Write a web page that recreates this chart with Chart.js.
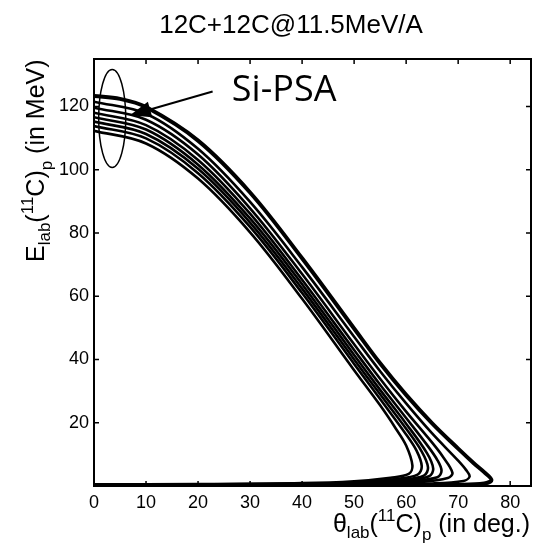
<!DOCTYPE html>
<html lang="en">
<head>
    <meta charset="UTF-8">
    <title>12C+12C@11.5MeV/A</title>
    <script src="https://cdn.jsdelivr.net/npm/chart.js"></script>
    <style>
        body { margin: 0; background: #fff; }
        #wrap { width: 537px; height: 556px; }
    </style>
</head>
<body>
    <div id="wrap"><canvas id="kinChart" width="537" height="556"></canvas></div>

    <script>
        // 11C kinematic loci: [theta_lab (deg), E_lab (MeV)]
        // upper branch from theta = 0 out to the turning angle, then back along the bottom
        const curve1 = [[0,112.3],[10,108.3],[20,97.2],[30,80.2],[40,59.2],[50,36.6],[55,25.5],[58,18.2],[60,12.8],[61.2,6.5],[60.5,3.8],[57,2.6],[50,1.5],[40,0.9],[20,0.6],[0,0.5]];
        const curve2 = [[0,113.8],[10,109.9],[20,98.9],[30,81.9],[40,61.0],[50,38.6],[55,27.5],[60,16.3],[62,11.2],[63,6.3],[62.2,3.6],[58,2.2],[50,1.1],[30,0.6],[0,0.4]];
        const curve3 = [[0,115.2],[10,111.3],[20,100.3],[30,83.3],[40,62.4],[50,40.0],[55,29.0],[60,18.1],[63,10.9],[64.2,5.9],[63.4,3.3],[59,2.0],[50,1.0],[30,0.5],[0,0.3]];
        const curve4 = [[0,116.6],[10,112.7],[20,101.6],[30,84.6],[40,63.8],[50,41.4],[55,30.4],[60,19.7],[64,10.4],[65.2,5.5],[64.4,3.1],[60,1.8],[50,0.9],[30,0.4],[0,0.3]];
        const curve5 = [[0,118.0],[10,114.1],[20,103.1],[30,86.1],[40,65.2],[50,43.0],[55,32.0],[60,21.5],[64,13.0],[66,8.2],[66.8,4.8],[66,2.8],[61,1.6],[50,0.8],[30,0.4],[0,0.2]];
        const curve6 = [[0,119.6],[10,115.8],[20,104.8],[30,87.8],[40,67.0],[50,44.8],[55,33.9],[60,23.5],[65,13.7],[67,9.4],[68.9,4.2],[68,2.5],[63,1.3],[50,0.6],[30,0.3],[0,0.2]];
        const curve7 = [[0,121.5],[10,117.7],[20,106.6],[30,89.8],[40,69.2],[50,47.2],[55,36.3],[60,26.1],[65,16.6],[70,8.0],[71.5,5.1],[72.2,3.0],[71,1.6],[65,0.8],[50,0.4],[0,0.1]];
        const curve8 = [[0,123.3],[5,122.4],[10,119.8],[20,109.2],[30,92.8],[40,72.0],[50,49.8],[55,38.8],[60,28.8],[65,19.8],[70,11.8],[73,7.2],[75,4.4],[76.4,1.9],[75,0.8],[70,0.4],[50,0.2],[0,0.1]];

        const curves = [curve1, curve2, curve3, curve4, curve5, curve6, curve7, curve8];

        const thetaTicks = [0, 10, 20, 30, 40, 50, 60, 70, 80];
        const energyTicks = [20, 40, 60, 80, 100, 120];
        const thetaRange = [0, 84];
        const energyRange = [0, 135];

        const FONT = '"Liberation Sans", Arial, sans-serif';

        // text with sub/superscripts, pieces are [text, size, baseline shift]
        function richWidth(ctx, parts) {
            let w = 0;
            parts.forEach(([txt, size]) => {
                ctx.font = size + 'px ' + FONT;
                w += ctx.measureText(txt).width;
            });
            return w;
        }

        function drawRich(ctx, parts, x0, y0) {
            let x = x0;
            parts.forEach(([txt, size, dy]) => {
                ctx.font = size + 'px ' + FONT;
                ctx.fillText(txt, x, y0 + dy);
                x += ctx.measureText(txt).width;
            });
        }

        const xTitle = [['θ', 25, 0], ['lab', 17, 6], ['(', 25, 0], ['11', 17, -11], ['C', 25, 0], [')', 25, 0], ['p', 17, 8], [' (in deg.)', 25, 0]];
        const yTitle = [['E', 25, 0], ['lab', 17, 6], ['(', 25, 0], ['11', 17, -11], ['C', 25, 0], [')', 25, 0], ['p', 17, 8], [' (in MeV)', 25, 0]];

        const overlay = {
            id: 'overlay',
            afterDatasetsDraw(chart) {
                const { ctx, chartArea: a, scales: { x, y } } = chart;
                ctx.save();
                ctx.strokeStyle = '#000';
                ctx.fillStyle = '#000';

                // box
                ctx.lineWidth = 2;
                ctx.strokeRect(a.left, a.top, a.right - a.left, a.bottom - a.top);

                // inward ticks on all four sides
                ctx.lineWidth = 1.5;
                ctx.beginPath();
                x.ticks.forEach(t => {
                    const px = x.getPixelForValue(t.value);
                    ctx.moveTo(px, a.bottom); ctx.lineTo(px, a.bottom - 5);
                    ctx.moveTo(px, a.top); ctx.lineTo(px, a.top + 5);
                });
                y.ticks.forEach(t => {
                    const py = y.getPixelForValue(t.value);
                    ctx.moveTo(a.left, py); ctx.lineTo(a.left + 5, py);
                    ctx.moveTo(a.right, py); ctx.lineTo(a.right - 5, py);
                });
                ctx.stroke();

                // ellipse round the theta ~ 0 region
                const ex = x.getPixelForValue(3.5), ey = y.getPixelForValue(116.2);
                const erx = x.getPixelForValue(6.1) - ex;
                const ery = ey - y.getPixelForValue(131.7);
                ctx.lineWidth = 1.5;
                ctx.beginPath();
                ctx.ellipse(ex, ey, erx, ery, 0, 0, Math.PI * 2);
                ctx.stroke();

                // arrow from the label to the curves
                const sx = x.getPixelForValue(22.8), sy = y.getPixelForValue(124.7);
                const tx = x.getPixelForValue(6.9), ty = y.getPixelForValue(117.2);
                const ang = Math.atan2(ty - sy, tx - sx);
                const hl = 21, hw = 8;
                const bx = tx - hl * Math.cos(ang), by = ty - hl * Math.sin(ang);
                ctx.lineWidth = 2;
                ctx.beginPath();
                ctx.moveTo(sx, sy);
                ctx.lineTo(bx, by);
                ctx.stroke();
                ctx.beginPath();
                ctx.moveTo(tx, ty);
                ctx.lineTo(bx + hw * Math.sin(ang), by - hw * Math.cos(ang));
                ctx.lineTo(bx - hw * Math.sin(ang), by + hw * Math.cos(ang));
                ctx.closePath();
                ctx.fill();

                ctx.font = '36px "Open Sans", sans-serif';
                ctx.textAlign = 'left';
                ctx.textBaseline = 'alphabetic';
                ctx.fillText('Si-PSA', x.getPixelForValue(26.5), y.getPixelForValue(121.6));

                // title
                ctx.font = '26px ' + FONT;
                ctx.textAlign = 'center';
                ctx.fillText('12C+12C@11.5MeV/A', 291, 33);

                // axis titles, x one ends at the right edge
                ctx.textAlign = 'left';
                drawRich(ctx, xTitle, 530 - richWidth(ctx, xTitle), 532);

                ctx.translate(44, 262);
                ctx.rotate(-Math.PI / 2);
                drawRich(ctx, yTitle, 0, 0);

                ctx.restore();
            }
        };

        new Chart(document.getElementById('kinChart'), {
            type: 'scatter',
            data: {
                datasets: curves.map((c, i) => ({
                    data: c.map(([t, e]) => ({ x: t, y: e })),
                    showLine: true,
                    borderColor: '#000',
                    borderWidth: i === curves.length - 1 ? 4 : 2.6,
                    pointRadius: 0,
                    tension: 0.35,
                    fill: false
                }))
            },
            options: {
                responsive: false,
                animation: false,
                layout: { padding: { top: 59, right: 6, bottom: 0, left: 0 } },
                plugins: {
                    legend: { display: false },
                    title: { display: false },
                    tooltip: { enabled: false }
                },
                scales: {
                    x: {
                        type: 'linear',
                        min: thetaRange[0],
                        max: thetaRange[1],
                        grid: { display: false, drawTicks: false },
                        border: { display: false },
                        afterBuildTicks: s => { s.ticks = thetaTicks.map(v => ({ value: v })); },
                        afterFit: s => { s.height = 70; },
                        ticks: { color: '#000', font: { family: FONT, size: 18 }, padding: 6, maxRotation: 0 }
                    },
                    y: {
                        type: 'linear',
                        min: energyRange[0],
                        max: energyRange[1],
                        grid: { display: false, drawTicks: false },
                        border: { display: false },
                        afterBuildTicks: s => { s.ticks = energyTicks.map(v => ({ value: v })); },
                        afterFit: s => { s.width = 94; },
                        ticks: { color: '#000', font: { family: FONT, size: 18 }, padding: 5 }
                    }
                }
            },
            plugins: [overlay]
        });
    </script>
</body>
</html>
